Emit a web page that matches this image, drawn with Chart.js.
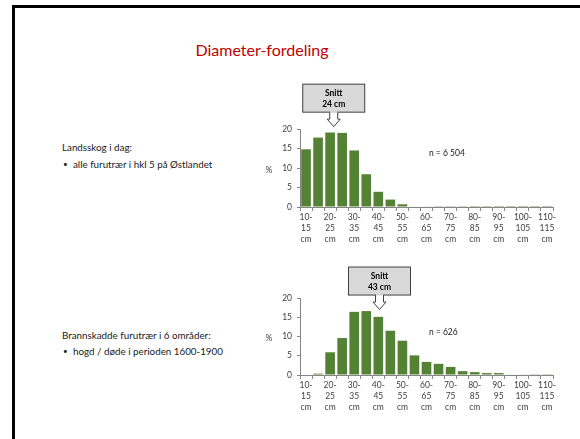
<!DOCTYPE html>
<html><head><meta charset="utf-8">
<script src="https://cdn.jsdelivr.net/npm/chart.js@4"></script>
<style>
html,body{margin:0;padding:0;background:#fff;}
body{width:580px;height:439px;position:relative;overflow:hidden;font-family:Lato,'Open Sans',sans-serif;}
#frame{position:absolute;left:12px;top:5px;width:700px;height:600px;border-left:3px solid #000;border-top:3px solid #000;}
#title{position:absolute;left:0;width:524px;top:40px;text-align:center;color:#c00000;font-size:16px;line-height:19px;}
.txt{position:absolute;font-size:9.8px;line-height:12px;color:#1a1a1a;white-space:nowrap;}
canvas{position:absolute;left:0;top:0;}
</style></head>
<body>
<div id="frame"></div>
<div id="title">Diameter-fordeling</div>
<div class="txt" style="left:62px;top:141px;">Landsskog i dag:</div>
<div class="txt" style="left:63px;top:158px;font-size:8px;">•</div>
<div class="txt" style="left:73px;top:158px;">alle furutrær i hkl 5 på Østlandet</div>
<div class="txt" style="left:62px;top:329px;">Brannskadde furutrær i 6 områder:</div>
<div class="txt" style="left:63px;top:345px;font-size:8px;">•</div>
<div class="txt" style="left:73px;top:345px;">hogd / døde i perioden 1600-1900</div>
<canvas id="c1" width="580" height="439"></canvas>
<canvas id="c2" width="580" height="439"></canvas>
<script>
const categories = ['10-15','15-20','20-25','25-30','30-35','35-40','40-45','45-50','50-55','55-60','60-65','65-70','70-75','75-80','80-85','85-90','90-95','95-100','100-105','105-110','110-115'];
const landsskog = [14.8,17.8,19.1,19.0,14.5,8.4,3.9,1.9,0.7,0.15,0.1,0.05,0.05,0.05,0.03,0.03,0.02,0.02,0.02,0.02,0.02];
const brannskadde = [0,0.35,5.9,9.6,16.4,16.6,15.1,11.5,8.9,5.1,3.4,2.9,2.1,1.0,0.75,0.5,0.5,0.1,0.1,0.2,0.2];
const yTicks = [0,5,10,15,20];
const means = [24, 43];
const nLabels = ['n = 6 504', 'n = 626'];
const calloutTitle = 'Snitt';
const binStart = 10, binWidth = 5;

Chart.defaults.font.family = 'Lato, "Open Sans", sans-serif';
Chart.defaults.color = '#404040';

function tickLabel(cat){
  const p = cat.split('-');
  return [p[0] + '-', p[1], 'cm'];
}

const calloutPlugin = {
  id: 'callout',
  afterDraw(chart, args, o){
    const ctx = chart.ctx, xs = chart.scales.x, ys = chart.scales.y, ca = chart.chartArea;
    ctx.save();
    ctx.fillStyle = '#404040';
    ctx.font = '8.5px Lato, sans-serif';
    ctx.textAlign = 'center'; ctx.textBaseline = 'middle';
    ctx.fillText('%', ca.left - 31, (ca.top + ca.bottom)/2 + 2);
    ctx.fillStyle = '#1a1a1a';
    ctx.textAlign = 'left';
    ctx.fillText(o.n, xs.getPixelForValue(o.nX), ys.getPixelForValue(o.nY));
    const idx = (o.mean - binStart)/binWidth - 0.5;
    const ax = xs.getPixelForValue(idx);
    const tipY = ys.getPixelForValue(o.tipValue);
    const bw = 62, bh = 28;
    const boxBottom = tipY - 14.5, boxTop = boxBottom - bh;
    const bx = ax - bw/2;
    ctx.fillStyle = '#d9d9d9';
    ctx.strokeStyle = '#404040';
    ctx.lineWidth = 1;
    ctx.fillRect(bx, boxTop, bw, bh);
    ctx.strokeRect(bx, boxTop, bw, bh);
    const sw = 4, hw = 6.5, shaftEnd = boxBottom + 7;
    ctx.beginPath();
    ctx.moveTo(ax - sw, boxBottom);
    ctx.lineTo(ax - sw, shaftEnd);
    ctx.lineTo(ax - hw, shaftEnd);
    ctx.lineTo(ax, tipY);
    ctx.lineTo(ax + hw, shaftEnd);
    ctx.lineTo(ax + sw, shaftEnd);
    ctx.lineTo(ax + sw, boxBottom);
    ctx.fillStyle = '#fff';
    ctx.fill();
    ctx.stroke();
    ctx.fillStyle = '#d9d9d9';
    ctx.fillRect(ax - sw + 0.5, boxBottom - 1, 2*sw - 1, 1.5);
    ctx.fillStyle = '#000';
    ctx.font = 'bold 8.5px Lato, sans-serif';
    ctx.textAlign = 'center';
    ctx.fillText(calloutTitle, ax, boxTop + 9);
    ctx.fillText(o.mean + ' cm', ax, boxTop + 20);
    ctx.restore();
  }
};

function makeChart(id, data, padTop, padBottom, opts){
  return new Chart(document.getElementById(id), {
    type: 'bar',
    data: { labels: categories, datasets: [{ data: data, backgroundColor: '#548235', borderWidth: 0, barPercentage: 0.8, categoryPercentage: 1 }] },
    options: {
      responsive: false, animation: false, devicePixelRatio: 1,
      layout: { padding: { left: 270, right: 27, top: padTop, bottom: padBottom } },
      plugins: { legend: { display: false }, tooltip: { enabled: false }, callout: opts },
      scales: {
        x: {
          offset: true,
          grid: { offset: true, drawOnChartArea: false, drawTicks: true, tickLength: 4, color: '#868686' },
          border: { display: true, color: '#868686' },
          ticks: { autoSkip: false, maxRotation: 0, minRotation: 0, padding: 1, color: '#404040', font: { size: 8.5, lineHeight: 1.3 },
            callback: (v, i) => i % 2 === 0 ? tickLabel(categories[i]) : '' },
          afterFit: s => { s.height = 40; }
        },
        y: {
          min: 0, max: 20,
          afterBuildTicks: s => { s.ticks = yTicks.map(v => ({ value: v })); },
          grid: { drawOnChartArea: false, drawTicks: true, tickLength: 3, color: '#868686' },
          border: { display: true, color: '#868686' },
          ticks: { padding: 5, color: '#404040', font: { size: 8.5 } },
          afterFit: s => { s.width = 30; }
        }
      }
    },
    plugins: [calloutPlugin]
  });
}

makeChart('c1', landsskog, 129, 439 - 207 - 40, { mean: means[0], tipValue: 20.6, n: nLabels[0], nX: 10.2, nY: 13.9 });
makeChart('c2', brannskadde, 298, 439 - 375 - 40, { mean: means[1], tipValue: 17, n: nLabels[1], nX: 10.2, nY: 11 });
</script>
</body></html>
